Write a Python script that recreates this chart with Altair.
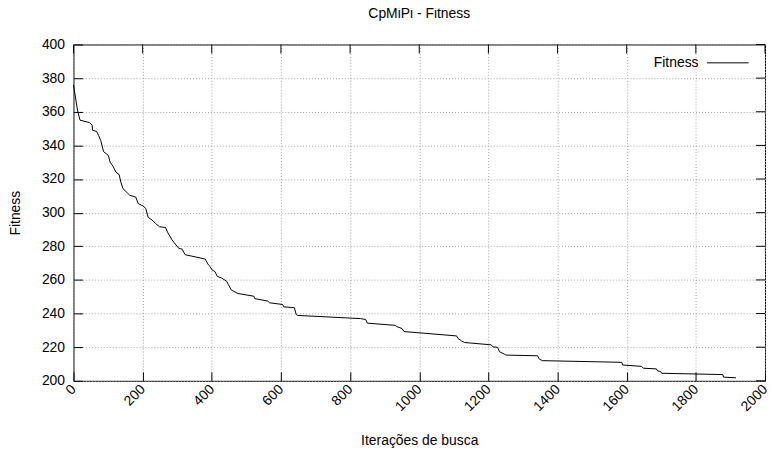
import altair as alt
import pandas as pd

# Data
iteracoes = [0, 12, 19, 46, 54, 55, 67, 73, 79, 87, 101, 106, 115, 123, 132, 137, 143, 156, 163,
             180, 187, 201, 209, 216, 230, 237, 249, 266, 273, 285, 304, 314, 323, 381, 390, 395,
             400, 409, 416, 428, 443, 448, 457, 476, 522, 524, 562, 567, 605, 608, 639, 644, 648,
             830, 845, 850, 930, 935, 950, 956, 1108, 1112, 1122, 1131, 1208, 1213, 1227, 1232,
             1246, 1251, 1342, 1347, 1356, 1586, 1588, 1643, 1648, 1686, 1689, 1698, 1701, 1878,
             1880, 1916]
fitness = [376, 360.5, 355, 353.6, 352, 349, 348.3, 345.7, 342.8, 336.3, 334, 330, 327.4, 324,
           322.7, 318.2, 314.3, 311.7, 310.3, 309.3, 305.4, 304, 302.5, 297.2, 295.2, 293.6,
           291.6, 291.2, 288, 283.8, 278.9, 278.3, 275, 272.4, 269, 268, 266.1, 265, 262.1,
           261.2, 259.2, 257.2, 253.9, 251.9, 250.3, 248.9, 247.4, 246.4, 245.4, 244, 243.5,
           239.5, 238.9, 237, 236.5, 234.3, 233, 232.3, 231.1, 229.3, 226.7, 225.2, 223.8,
           222.8, 221.4, 220.2, 219.9, 217.3, 215.9, 215.3, 214.9, 213, 212, 211, 209.4, 208.6,
           207.5, 207.1, 205.9, 205.5, 204.5, 203.7, 202.2, 201.8]
serie = ["Fitness"] * len(iteracoes)

x_ticks = [0, 200, 400, 600, 800, 1000, 1200, 1400, 1600, 1800, 2000]
y_ticks = [200, 220, 240, 260, 280, 300, 320, 340, 360, 380, 400]

df = pd.DataFrame({"iter": iteracoes, "fit": fitness, "serie": serie})
df_xt = pd.DataFrame({"iter": x_ticks})
df_yt = pd.DataFrame({"fit": y_ticks})

W, H = 697, 339
FONT = "Liberation Sans"
FS = 14
TL = 9  # inward tick length (px)

xscale = alt.Scale(domain=[0, 2000], nice=False, zero=False)
yscale = alt.Scale(domain=[200, 400], nice=False, zero=False)

# inward ticks on the bottom/left axes (negative tick size, label padding compensated)
xaxis = alt.Axis(orient="bottom", values=x_ticks, format="d", title="Iterações de busca",
                 labelAngle=-45, labelAlign="right", labelBaseline="middle",
                 labelPadding=6 + TL, ticks=True, tickSize={"expr": str(-TL)},
                 tickColor="black", tickWidth=1, domain=False, grid=True,
                 gridDash=[1, 2], gridColor="#a0a0a0", gridWidth=1,
                 labelFontSize=FS, titleFontSize=FS, titleFontWeight="normal",
                 titleY=60, titleBaseline="middle", labelColor="black",
                 titleColor="black", labelFlush=False, labelOverlap=False)
yaxis = alt.Axis(orient="left", values=y_ticks, format="d", title="Fitness",
                 ticks=True, tickSize={"expr": str(-TL)}, tickColor="black", tickWidth=1,
                 domain=False, grid=True, gridDash=[1, 2],
                 gridColor="#a0a0a0", gridWidth=1, labelPadding=9 + TL,
                 labelFontSize=FS, titleFontSize=FS, titleFontWeight="normal",
                 titleX=-58, titleBaseline="middle", labelColor="black",
                 titleColor="black", labelFlush=False, labelOverlap=False)

main = alt.Chart(df).mark_line(strokeWidth=1, color="black").encode(
    x=alt.X("iter:Q", scale=xscale, axis=xaxis),
    y=alt.Y("fit:Q", scale=yscale, axis=yaxis),
    color=alt.Color("serie:N", scale=alt.Scale(range=["black"]),
                    legend=alt.Legend(title=None, orient="none", legendX=638, legendY=-3,
                                      symbolType="stroke", symbolSize=1764,
                                      symbolStrokeWidth=1, labelAlign="right",
                                      labelOffset={"expr": "-51"}, labelFontSize=FS, padding=0,
                                      labelColor="black")),
)

# inward ticks along the top and right borders
tick_top = alt.Chart(df_xt).mark_tick(orient="vertical", size=TL, thickness=1,
                                      color="black", yOffset=TL / 2, opacity=1).encode(
    x=alt.X("iter:Q", scale=xscale, axis=None),
    y=alt.datum(y_ticks[-1], scale=yscale, axis=None))
tick_right = alt.Chart(df_yt).mark_tick(orient="horizontal", size=TL, thickness=1,
                                        color="black", xOffset=-TL / 2, opacity=1).encode(
    y=alt.Y("fit:Q", scale=yscale, axis=None),
    x=alt.datum(x_ticks[-1], scale=xscale, axis=None))

chart = alt.layer(
    main, tick_top, tick_right
).resolve_axis(x="independent", y="independent").properties(
    width=W, height=H,
    title=alt.Title("CpMiPi - Fitness", fontSize=FS, fontWeight="normal", font=FONT,
                    anchor="middle", frame="group", baseline="alphabetic", offset=18,
                    dy=12, color="black"),
    autosize=alt.AutoSizeParams(type="none"),
    padding={"left": 66, "top": 35, "right": 2, "bottom": 75},
).configure(font=FONT).configure_view(stroke="black", strokeWidth=1)

chart.save("out.html", embed_options={"renderer": "svg", "actions": False})
